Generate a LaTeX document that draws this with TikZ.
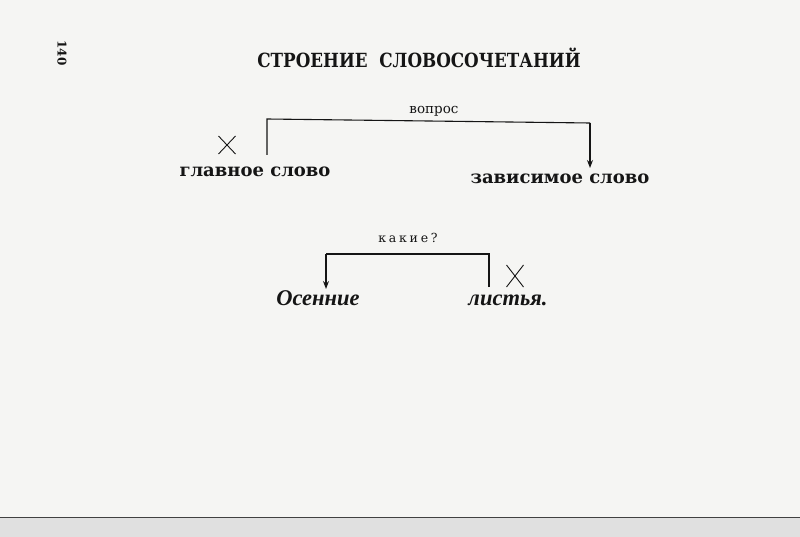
\documentclass[tikz,border=0pt]{standalone}
\usepackage{fontspec}
\setmainfont{DejaVu Serif}
\newfontfamily\libser{Liberation Serif}
\usetikzlibrary{arrows.meta,calc}
\definecolor{paper}{HTML}{F5F5F3}
\definecolor{ink}{HTML}{151515}
\tikzset{
  word/.style={inner sep=0pt, text=ink, font=\bfseries\fontsize{18}{20}\selectfont},
  itword/.style={inner sep=0pt, text=ink, font=\libser\bfseries\itshape\fontsize{22.5}{24}\selectfont},
  small/.style={inner sep=0pt, text=ink, font=\fontsize{13.5}{15}\selectfont},
  link/.style={draw=ink, line width=1.1pt},
  arr/.style={link, -{Stealth[length=8pt,width=6pt]}},
  cross/.style={draw=ink, line width=0.9pt}
}
\begin{document}
\begin{tikzpicture}[x=1pt,y=-1pt]
\useasboundingbox (0,0) rectangle (800,537);
\fill[paper] (0,0) rectangle (800,537);
\fill[black!12] (0,518) rectangle (800,537);
\draw[black!75, line width=1.4pt] (0,517.5) -- (800,517.5);

% page number and title
\node[inner sep=0pt, text=ink, rotate=-90, font=\bfseries\fontsize{12}{14}\selectfont] (pg) at (62,53) {140};
\node[inner sep=0pt, text=ink, xscale=0.86, font=\bfseries\fontsize{19.5}{22}\selectfont] (title) at (419,58) {СТРОЕНИЕ\ \ СЛОВОСОЧЕТАНИЙ};

% upper scheme
\node[word] (main) at (255,172) {главное слово};
\node[word] (dep) at (560,179) {зависимое слово};
\node[small] (q1) at (434,111) {вопрос};
\coordinate (a1) at (267,155);
\coordinate (a2) at (267,119);
\coordinate (a3) at (590,123);
\coordinate (a4) at (590,168);
\draw[link] (a1) -- (a2) -- (a3);
\draw[arr] (a3) -- (a4);
\coordinate (x1) at (227,145);
\draw[cross] ($(x1)+(-8.5,-9)$) -- ($(x1)+(8.5,9)$) ($(x1)+(8.5,-9)$) -- ($(x1)+(-8.5,9)$);

% lower scheme
\node[itword] (os) at (318,298) {Осенние};
\node[itword] (li) at (508,300) {листья.};
\node[small, font=\fontsize{12.5}{14}\selectfont\addfontfeature{LetterSpace=22}] (q2) at (408,238) {какие?};
\coordinate (b1) at (489,287);
\coordinate (b2) at (489,254);
\coordinate (b3) at (326,254);
\coordinate (b4) at (326,289);
\draw[link] (b1) -- (b2) -- (b3);
\draw[arr] (b3) -- (b4);
\coordinate (x2) at (515,276);
\draw[cross] ($(x2)+(-8.5,-11)$) -- ($(x2)+(8.5,11)$) ($(x2)+(8.5,-11)$) -- ($(x2)+(-8.5,11)$);
\end{tikzpicture}
\end{document}
